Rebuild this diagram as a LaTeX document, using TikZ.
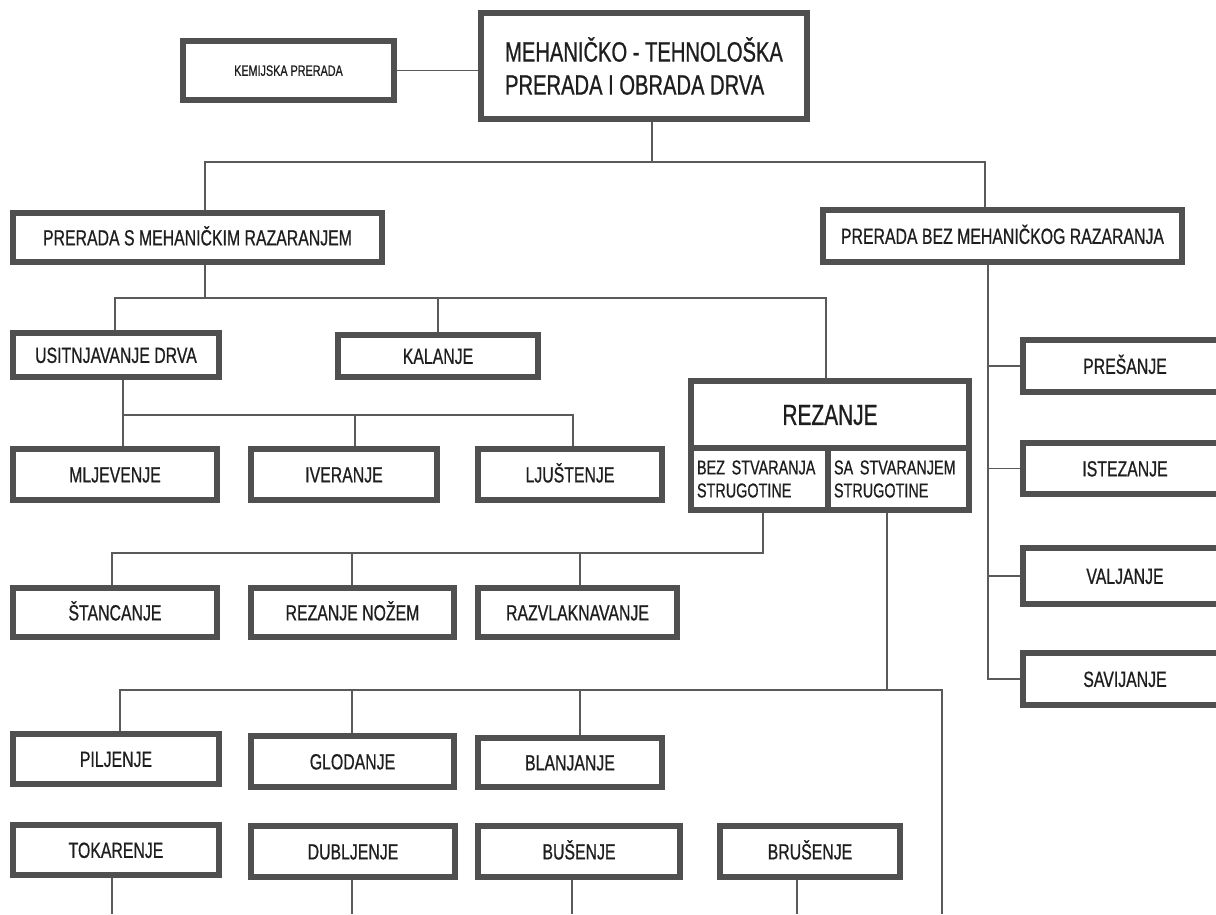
\documentclass[tikz,border=0pt]{standalone}
\usepackage{fontspec}
\setmainfont{Liberation Sans}[FakeStretch=0.72,FakeBold=0.7]
\usetikzlibrary{backgrounds}
\definecolor{bord}{RGB}{80,80,80}
\definecolor{ln}{RGB}{90,90,90}
\definecolor{txt}{RGB}{30,30,30}
\begin{document}
\begin{tikzpicture}[x=1pt,y=-1pt,
  box/.style={draw=bord,line width=5.5pt,fill=white,inner sep=0pt,text=txt,font=\fontsize{22}{24}\selectfont,text height=15.8pt,text depth=0pt},
  multi/.style={text height=,text depth=},
  conn/.style={draw=ln,line width=1.1pt}]
\useasboundingbox (0,0) rectangle (1216,914);
\clip (0,0) rectangle (1216,914);
% top
\node[box,minimum width=211pt,minimum height=59pt,font=\fontsize{15}{17}\selectfont,text height=10.7pt] (kem) at (288.5,70.5) {KEMIJSKA PRERADA};
\node[box,multi,minimum width=326pt,minimum height=106pt,align=left,font=\fontsize{28}{33}\selectfont] (main) at (644,66) {MEHANIČKO - TEHNOLOŠKA\\PRERADA I OBRADA DRVA};
\node[box,minimum width=369pt,minimum height=49pt] (ps) at (197.5,237.5) {PRERADA S MEHANIČKIM RAZARANJEM};
\node[box,minimum width=359pt,minimum height=52pt] (pb) at (1002.5,236) {PRERADA BEZ MEHANIČKOG RAZARANJA};
% level 2
\node[box,minimum width=206pt,minimum height=44pt] (usit) at (116,355) {USITNJAVANJE DRVA};
\node[box,minimum width=200pt,minimum height=42pt] (kal) at (438,356) {KALANJE};
\node[box,minimum width=278pt,minimum height=67pt,font=\fontsize{29}{31}\selectfont,text height=20.8pt] (rtop) at (830,414.5) {REZANJE\hspace{20pt}};
\node[box,multi,minimum width=137pt,minimum height=62pt,text width=125pt,align=left,font=\fontsize{20}{23}\selectfont] (rbez) at (759.5,479) {BEZ STVARANJA\\STRUGOTINE};
\node[box,multi,minimum width=141pt,minimum height=62pt,text width=129pt,align=left,font=\fontsize{20}{23}\selectfont] (rsa) at (898.5,479) {SA STVARANJEM\\STRUGOTINE};
% level 3
\node[box,minimum width=204pt,minimum height=51pt] (mlj) at (115,474.5) {MLJEVENJE};
\node[box,minimum width=186pt,minimum height=51pt] (iver) at (344,474.5) {IVERANJE};
\node[box,minimum width=184pt,minimum height=51pt] (ljus) at (570,474.5) {LJUŠTENJE};
\node[box,minimum width=204pt,minimum height=49pt] (stan) at (115,612.5) {ŠTANCANJE};
\node[box,minimum width=203pt,minimum height=49pt] (rnoz) at (352.5,612.5) {REZANJE NOŽEM};
\node[box,minimum width=199pt,minimum height=49pt] (razv) at (577.5,612.5) {RAZVLAKNAVANJE};
\node[box,minimum width=206pt,minimum height=50pt] (pil) at (116,759) {PILJENJE};
\node[box,minimum width=203pt,minimum height=51pt] (glod) at (352.5,761.5) {GLODANJE};
\node[box,minimum width=184pt,minimum height=49pt] (blan) at (570,762.5) {BLANJANJE};
\node[box,minimum width=206pt,minimum height=50pt] (tok) at (116,850) {TOKARENJE};
\node[box,minimum width=204pt,minimum height=51pt] (dub) at (353,851.5) {DUBLJENJE};
\node[box,minimum width=202pt,minimum height=51pt] (bus) at (579,851.5) {BUŠENJE};
\node[box,minimum width=180pt,minimum height=51pt] (brus) at (810,851.5) {BRUŠENJE};
% right column
\node[box,minimum width=204pt,minimum height=52pt] (pres) at (1125,366) {PREŠANJE\hspace{30pt}};
\node[box,minimum width=204pt,minimum height=51pt] (ist) at (1125,468.5) {ISTEZANJE\hspace{14pt}};
\node[box,minimum width=204pt,minimum height=56pt] (valj) at (1125,576) {VALJANJE\hspace{40pt}};
\node[box,minimum width=204pt,minimum height=52pt] (sav) at (1125,679) {SAVIJANJE\hspace{26pt}};
% connectors
\begin{pgfonlayer}{background}
\coordinate (t1) at (652,162); \coordinate (a1) at (205,162); \coordinate (b1) at (985,162);
\draw[conn] (kem.east) -- (main.west |- kem.east);
\draw[conn] (main.south -| t1) -- (t1);
\draw[conn] (a1 |- ps.north) -- (a1) -- (b1) -- (b1 |- pb.north);
\coordinate (t2) at (205,298); \coordinate (a2) at (115,298); \coordinate (b2) at (438,298); \coordinate (c2) at (826,298);
\draw[conn] (ps.south -| t2) -- (t2);
\draw[conn] (a2 |- usit.north) -- (a2) -- (c2) -- (c2 |- rtop.north);
\draw[conn] (b2) -- (b2 |- kal.north);
\coordinate (t3) at (123,415); \coordinate (b3) at (355,415); \coordinate (c3) at (573,415);
\draw[conn] (usit.south -| t3) -- (t3 |- mlj.north);
\draw[conn] (t3) -- (c3) -- (c3 |- ljus.north);
\draw[conn] (b3) -- (b3 |- iver.north);
\coordinate (t4) at (763,553); \coordinate (a4) at (112,553); \coordinate (b4) at (352,553); \coordinate (c4) at (580,553);
\draw[conn] (rbez.south -| t4) -- (t4) -- (a4) -- (a4 |- stan.north);
\draw[conn] (b4) -- (b4 |- rnoz.north);
\draw[conn] (c4) -- (c4 |- razv.north);
\coordinate (t5) at (887,690); \coordinate (a5) at (120,690); \coordinate (b5) at (352,690); \coordinate (c5) at (580,690);
\coordinate (d5) at (942,690); \coordinate (e5) at (942,914);
\draw[conn] (rsa.south -| t5) -- (t5);
\draw[conn] (a5 |- pil.north) -- (a5) -- (d5) -- (e5);
\draw[conn] (b5) -- (b5 |- glod.north);
\draw[conn] (c5) -- (c5 |- blan.north);
\coordinate (f1) at (112,914); \coordinate (f2) at (352,914); \coordinate (f3) at (572,914); \coordinate (f4) at (797,914);
\draw[conn] (tok.south -| f1) -- (f1);
\draw[conn] (dub.south -| f2) -- (f2);
\draw[conn] (bus.south -| f3) -- (f3);
\draw[conn] (brus.south -| f4) -- (f4);
\coordinate (rt) at (988,680);
\draw[conn] (pb.south -| rt) -- (rt |- sav.west) -- (sav.west);
\draw[conn] (rt |- pres.west) -- (pres.west);
\draw[conn] (rt |- ist.west) -- (ist.west);
\draw[conn] (rt |- valj.west) -- (valj.west);
\end{pgfonlayer}
\end{tikzpicture}
\end{document}
